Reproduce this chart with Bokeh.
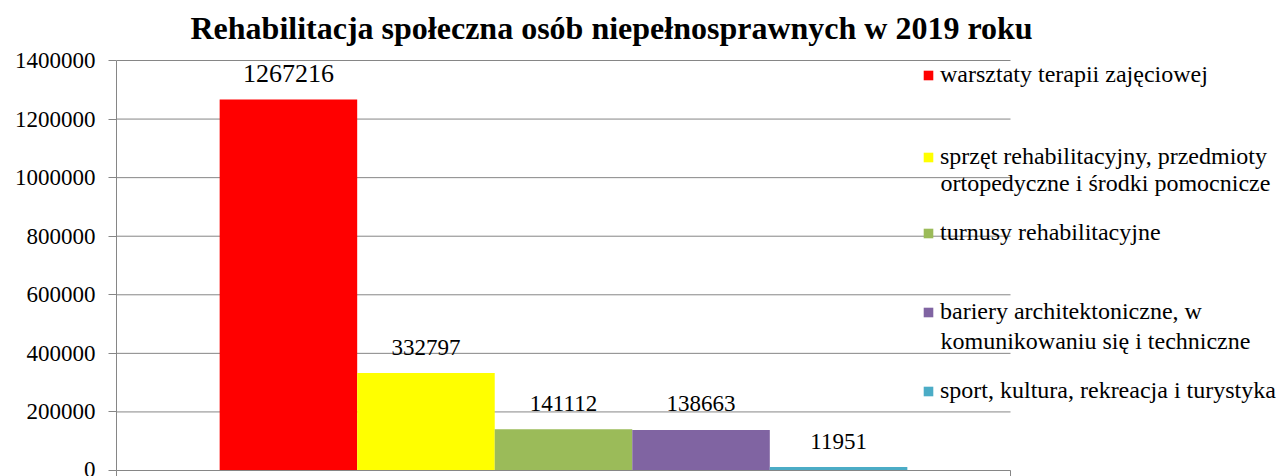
from bokeh.plotting import figure
from bokeh.models import ColumnDataSource, Range1d, FixedTicker, Legend, LegendItem, PrintfTickFormatter, Label
from bokeh.embed import file_html
from bokeh.resources import INLINE
from bokeh.core.properties import value

# ---------------- data ----------------
title_text = "Rehabilitacja społeczna osób niepełnosprawnych w 2019 roku"
categories = [
    "warsztaty terapii zajęciowej",
    "sprzęt rehabilitacyjny, przedmioty ortopedyczne i środki pomocnicze",
    "turnusy rehabilitacyjne",
    "bariery architektoniczne, w komunikowaniu się i techniczne",
    "sport, kultura, rekreacja i turystyka",
]
legend_lines = [
    ["warsztaty terapii zajęciowej"],
    ["sprzęt rehabilitacyjny, przedmioty", "ortopedyczne i środki pomocnicze"],
    ["turnusy rehabilitacyjne"],
    ["bariery architektoniczne, w", "komunikowaniu się i techniczne"],
    ["sport, kultura, rekreacja i turystyka"],
]
values = [1267216, 332797, 141112, 138663, 11951]
colors = ["#FF0000", "#FFFF00", "#9BBB59", "#8064A2", "#4BACC6"]
y_ticks = [0, 200000, 400000, 600000, 800000, 1000000, 1200000, 1400000]

# ---------------- layout ----------------
FONT = "Liberation Serif"
GRAY = "#868686"
W, H = 1277, 476
LEFT, TOP, BOTTOM_BORDER = 116, 50, 6
AXIS_TOP_PX = 60                       # where the top tick sits on the page
PLOT_AREA_W = 894                      # width of the category area in px
frame_w = W - LEFT
x_end = frame_w / PLOT_AREA_W
frame_bottom = H - BOTTOM_BORDER
frame_h = frame_bottom - TOP
y_end = y_ticks[-1] * frame_h / (frame_bottom - AXIS_TOP_PX)

n = len(values)
bw = 1.0 / (n + 1.5)                   # Excel-like gap width 150%
xs = [0.75 * bw + (i + 0.5) * bw for i in range(n)]
label_sizes = ["26px"] + ["23px"] * (n - 1)

src = ColumnDataSource(dict(
    x=xs, top=values, color=colors, cat=categories,
    label=[str(v) for v in values], size=label_sizes,
))
grid_src = ColumnDataSource(dict(y=y_ticks, x0=[0] * len(y_ticks), x1=[1] * len(y_ticks)))

p = figure(width=W, height=H, x_range=Range1d(0, x_end), y_range=Range1d(0, y_end),
           output_backend="svg", toolbar_location=None,
           min_border_left=LEFT, min_border_right=0, min_border_top=TOP, min_border_bottom=BOTTOM_BORDER)
p.outline_line_color = None
p.background_fill_color = "white"
p.xgrid.visible = False
p.ygrid.visible = False

# gridlines limited to the category area
p.segment(x0="x0", x1="x1", y0="y", y1="y", source=grid_src, line_color=GRAY, line_width=1)

bars = p.vbar(x="x", top="top", bottom=0, width=bw, fill_color="color", line_color=None, source=src)
p.text(x="x", y="top", text="label", source=src, text_align="center", text_baseline="middle",
       y_offset=-26, text_font=value(FONT), text_font_size="size", text_color="black")

# title
p.title.text = title_text
p.title.align = "left"
p.title.offset = 74
p.title.standoff = 10
p.title.text_font = FONT
p.title.text_font_size = "32px"
p.title.text_font_style = "bold"
p.title.text_color = "black"

# y axis
p.yaxis.ticker = FixedTicker(ticks=y_ticks)
p.yaxis.bounds = (0, y_ticks[-1])
p.yaxis.formatter = PrintfTickFormatter(format="%d")
p.yaxis.major_label_text_font = FONT
p.yaxis.major_label_text_font_size = "23px"
p.yaxis.major_label_text_color = "black"
p.yaxis.major_tick_out = 8
p.yaxis.major_tick_in = 0
p.yaxis.minor_tick_line_color = None
p.yaxis.major_label_standoff = 13
p.yaxis.axis_line_color = GRAY
p.yaxis.major_tick_line_color = GRAY

# x axis (no labels, boundary ticks only)
p.xaxis.ticker = FixedTicker(ticks=[0, 1])
p.xaxis.bounds = (0, 1)
p.xaxis.major_label_overrides = {0: "", 1: ""}
p.xaxis.major_label_standoff = 0
p.xaxis.major_tick_out = 6
p.xaxis.major_tick_in = 0
p.xaxis.minor_tick_line_color = None
p.xaxis.axis_line_color = GRAY
p.xaxis.major_tick_line_color = GRAY

# legend: one block per item, placed like the original (frame-relative px)
glyph_x = 806
text_x = glyph_x + 12 + 6
first_line_centers = [75, 157, 233, 312, 391]
second_line_centers = [None, 182, None, 340, None]
item_h = 26
for i, lines in enumerate(legend_lines):
    leg = Legend(items=[LegendItem(label=lines[0], renderers=[bars], index=i)],
                 location=(glyph_x, frame_bottom - first_line_centers[i] - item_h // 2),
                 padding=0, margin=0, spacing=0,
                 glyph_width=12, glyph_height=12, label_standoff=6, label_height=item_h,
                 label_text_font=FONT, label_text_font_size="24px", label_text_color="black",
                 border_line_color=None, background_fill_alpha=0)
    p.add_layout(leg)
    if len(lines) > 1:
        p.add_layout(Label(x=text_x, y=frame_bottom - second_line_centers[i],
                           x_units="screen", y_units="screen", text=lines[1],
                           text_align="left", text_baseline="middle",
                           text_font=FONT, text_font_size="24px", text_color="black"))

open("out.html", "w").write(file_html(p, INLINE))
